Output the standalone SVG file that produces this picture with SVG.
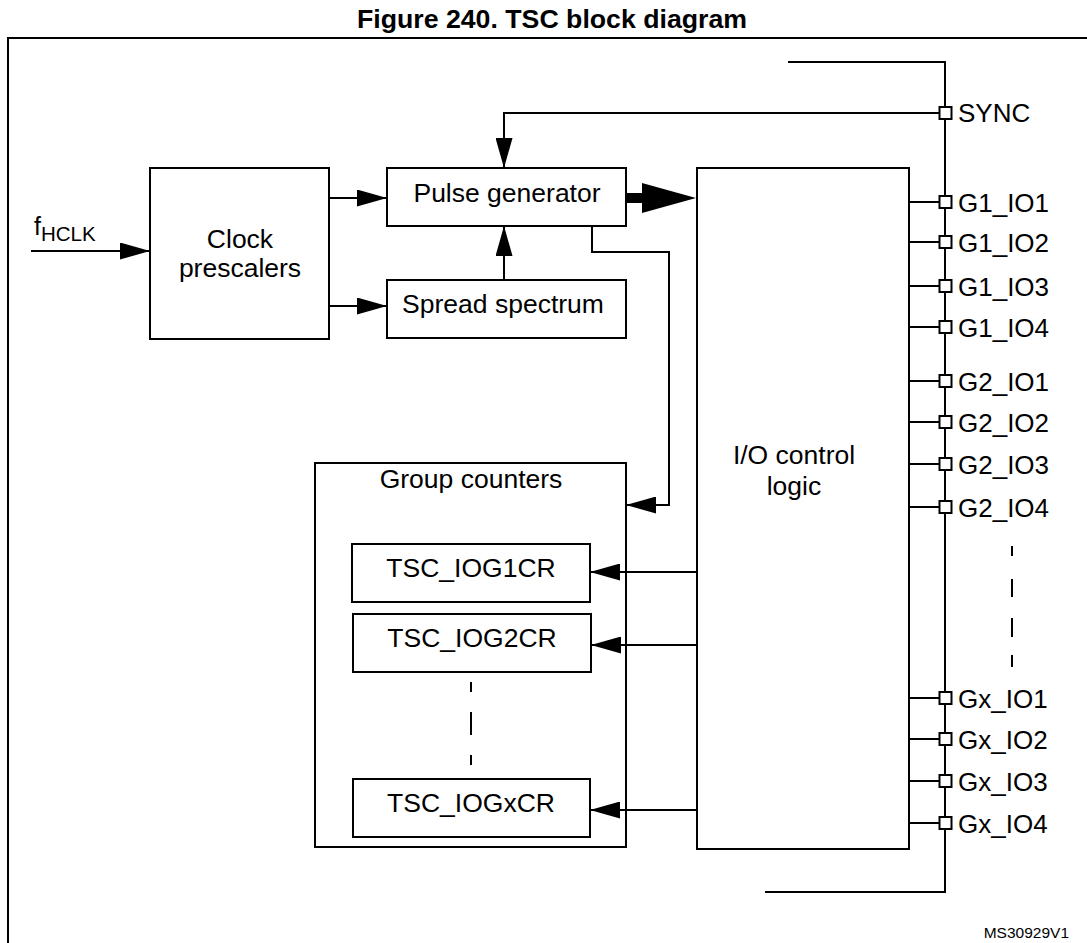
<svg xmlns="http://www.w3.org/2000/svg" width="1087" height="943" viewBox="0 0 1087 943">
<style>
  text { font-family: "Liberation Sans", Arial, sans-serif; fill: #000; }
  .lbl { font-size: 26.5px; }
  .pl { font-size: 26px; }
  .mid { text-anchor: middle; }
  .box { fill: #fff; stroke: #000; stroke-width: 2; }
  .ln { fill: none; stroke: #000; stroke-width: 2; }
  .pin { fill: #fff; stroke: #000; stroke-width: 2; }
  .title { font-size: 26.7px; font-weight: bold; }
</style>
<defs>
  <marker id="ah" markerUnits="userSpaceOnUse" markerWidth="30" markerHeight="17" refX="30" refY="8.5" orient="auto">
    <path d="M0,0 L30,8.5 L0,17 z" fill="#000"/>
  </marker>
</defs>
<rect width="1087" height="943" fill="#fff"/>
<text class="title mid" x="552" y="28">Figure 240. TSC block diagram</text>
<rect x="8" y="38" width="1100" height="930" fill="none" stroke="#000" stroke-width="2"/>

<g id="clock-prescalers">
  <rect class="box" x="150" y="168" width="179" height="171"/>
  <text class="lbl mid" x="240" y="248">Clock</text>
  <text class="lbl mid" x="240" y="277">prescalers</text>
</g>
<g id="pulse-generator">
  <rect class="box" x="387" y="168" width="239" height="58"/>
  <text class="lbl mid" x="507" y="202">Pulse generator</text>
</g>
<g id="spread-spectrum">
  <rect class="box" x="387" y="280" width="239" height="58"/>
  <text class="lbl mid" x="503" y="313">Spread spectrum</text>
</g>
<g id="io-control-logic">
  <rect class="box" x="697" y="168" width="212" height="681"/>
  <text class="lbl mid" x="794" y="464">I/O control</text>
  <text class="lbl mid" x="794" y="495">logic</text>
</g>
<g id="group-counters">
  <rect class="box" x="315" y="463" width="311" height="384"/>
  <text class="lbl mid" x="471" y="488">Group counters</text>
</g>
<g id="tsc-iog1cr">
  <rect class="box" x="352" y="544" width="238" height="58"/>
  <text class="lbl mid" x="471" y="577">TSC_IOG1CR</text>
</g>
<g id="tsc-iog2cr">
  <rect class="box" x="353" y="614" width="238" height="58"/>
  <text class="lbl mid" x="472" y="647">TSC_IOG2CR</text>
</g>
<g id="tsc-iogxcr">
  <rect class="box" x="353" y="779" width="237" height="58"/>
  <text class="lbl mid" x="471" y="812">TSC_IOGxCR</text>
</g>

<g id="connectors">
  <line class="ln" x1="31" y1="251" x2="150" y2="251" marker-end="url(#ah)"/>
  <line class="ln" x1="329" y1="198" x2="387" y2="198" marker-end="url(#ah)"/>
  <line class="ln" x1="329" y1="306" x2="387" y2="306" marker-end="url(#ah)"/>
  <line class="ln" x1="504" y1="280" x2="504" y2="226" marker-end="url(#ah)"/>
  <polyline class="ln" points="939,113 504,113 504,168" marker-end="url(#ah)"/>
  <rect x="626" y="193" width="18" height="10" fill="#000"/>
  <path d="M642,183 L696,198 L642,213 z" fill="#000"/>
  <polyline class="ln" points="592,226 592,252 669,252 669,505 626,505" marker-end="url(#ah)"/>
  <line class="ln" x1="697" y1="572" x2="590" y2="572" marker-end="url(#ah)"/>
  <line class="ln" x1="697" y1="645" x2="591" y2="645" marker-end="url(#ah)"/>
  <line class="ln" x1="697" y1="810" x2="590" y2="810" marker-end="url(#ah)"/>
  <path class="ln" d="M471,682 V692 M471,712 V735 M471,755 V765"/>
  <polyline class="ln" points="788,62 945,62 945,892 765,892"/>
  <path class="ln" d="M909,202 H940 M908,242 H940 M909,286 H940 M908,327 H940 M908,381 H940 M908,422 H940 M909,464 H940 M908,507 H940 M909,698 H940 M908,739 H940 M909,781 H940 M909,823 H940"/>
  <path class="ln" d="M1012,546 V556 M1012,579 V597 M1012,618 V637 M1012,655 V667"/>
</g>

<g id="pins">
  <rect class="pin" x="939.5" y="107" width="12" height="12"/>
  <text class="pl" x="958" y="122">SYNC</text>
  <rect class="pin" x="939.5" y="196" width="12" height="12"/>
  <text class="pl" x="958" y="212">G1_IO1</text>
  <rect class="pin" x="939.5" y="236" width="12" height="12"/>
  <text class="pl" x="958" y="252">G1_IO2</text>
  <rect class="pin" x="939.5" y="280" width="12" height="12"/>
  <text class="pl" x="958" y="296">G1_IO3</text>
  <rect class="pin" x="939.5" y="321" width="12" height="12"/>
  <text class="pl" x="958" y="337">G1_IO4</text>
  <rect class="pin" x="939.5" y="375" width="12" height="12"/>
  <text class="pl" x="958" y="391">G2_IO1</text>
  <rect class="pin" x="939.5" y="416" width="12" height="12"/>
  <text class="pl" x="958" y="432">G2_IO2</text>
  <rect class="pin" x="939.5" y="458" width="12" height="12"/>
  <text class="pl" x="958" y="474">G2_IO3</text>
  <rect class="pin" x="939.5" y="501" width="12" height="12"/>
  <text class="pl" x="958" y="517">G2_IO4</text>
  <rect class="pin" x="939.5" y="692" width="12" height="12"/>
  <text class="pl" x="958" y="708">Gx_IO1</text>
  <rect class="pin" x="939.5" y="733" width="12" height="12"/>
  <text class="pl" x="958" y="749">Gx_IO2</text>
  <rect class="pin" x="939.5" y="775" width="12" height="12"/>
  <text class="pl" x="958" y="791">Gx_IO3</text>
  <rect class="pin" x="939.5" y="817" width="12" height="12"/>
  <text class="pl" x="958" y="833">Gx_IO4</text>
</g>

<g id="fhclk-label">
  <text x="34" y="235" font-size="25">f<tspan font-size="20.5" y="241">HCLK</tspan></text>
</g>
<text x="1069" y="938" font-size="15.5" text-anchor="end">MS30929V1</text>
</svg>
